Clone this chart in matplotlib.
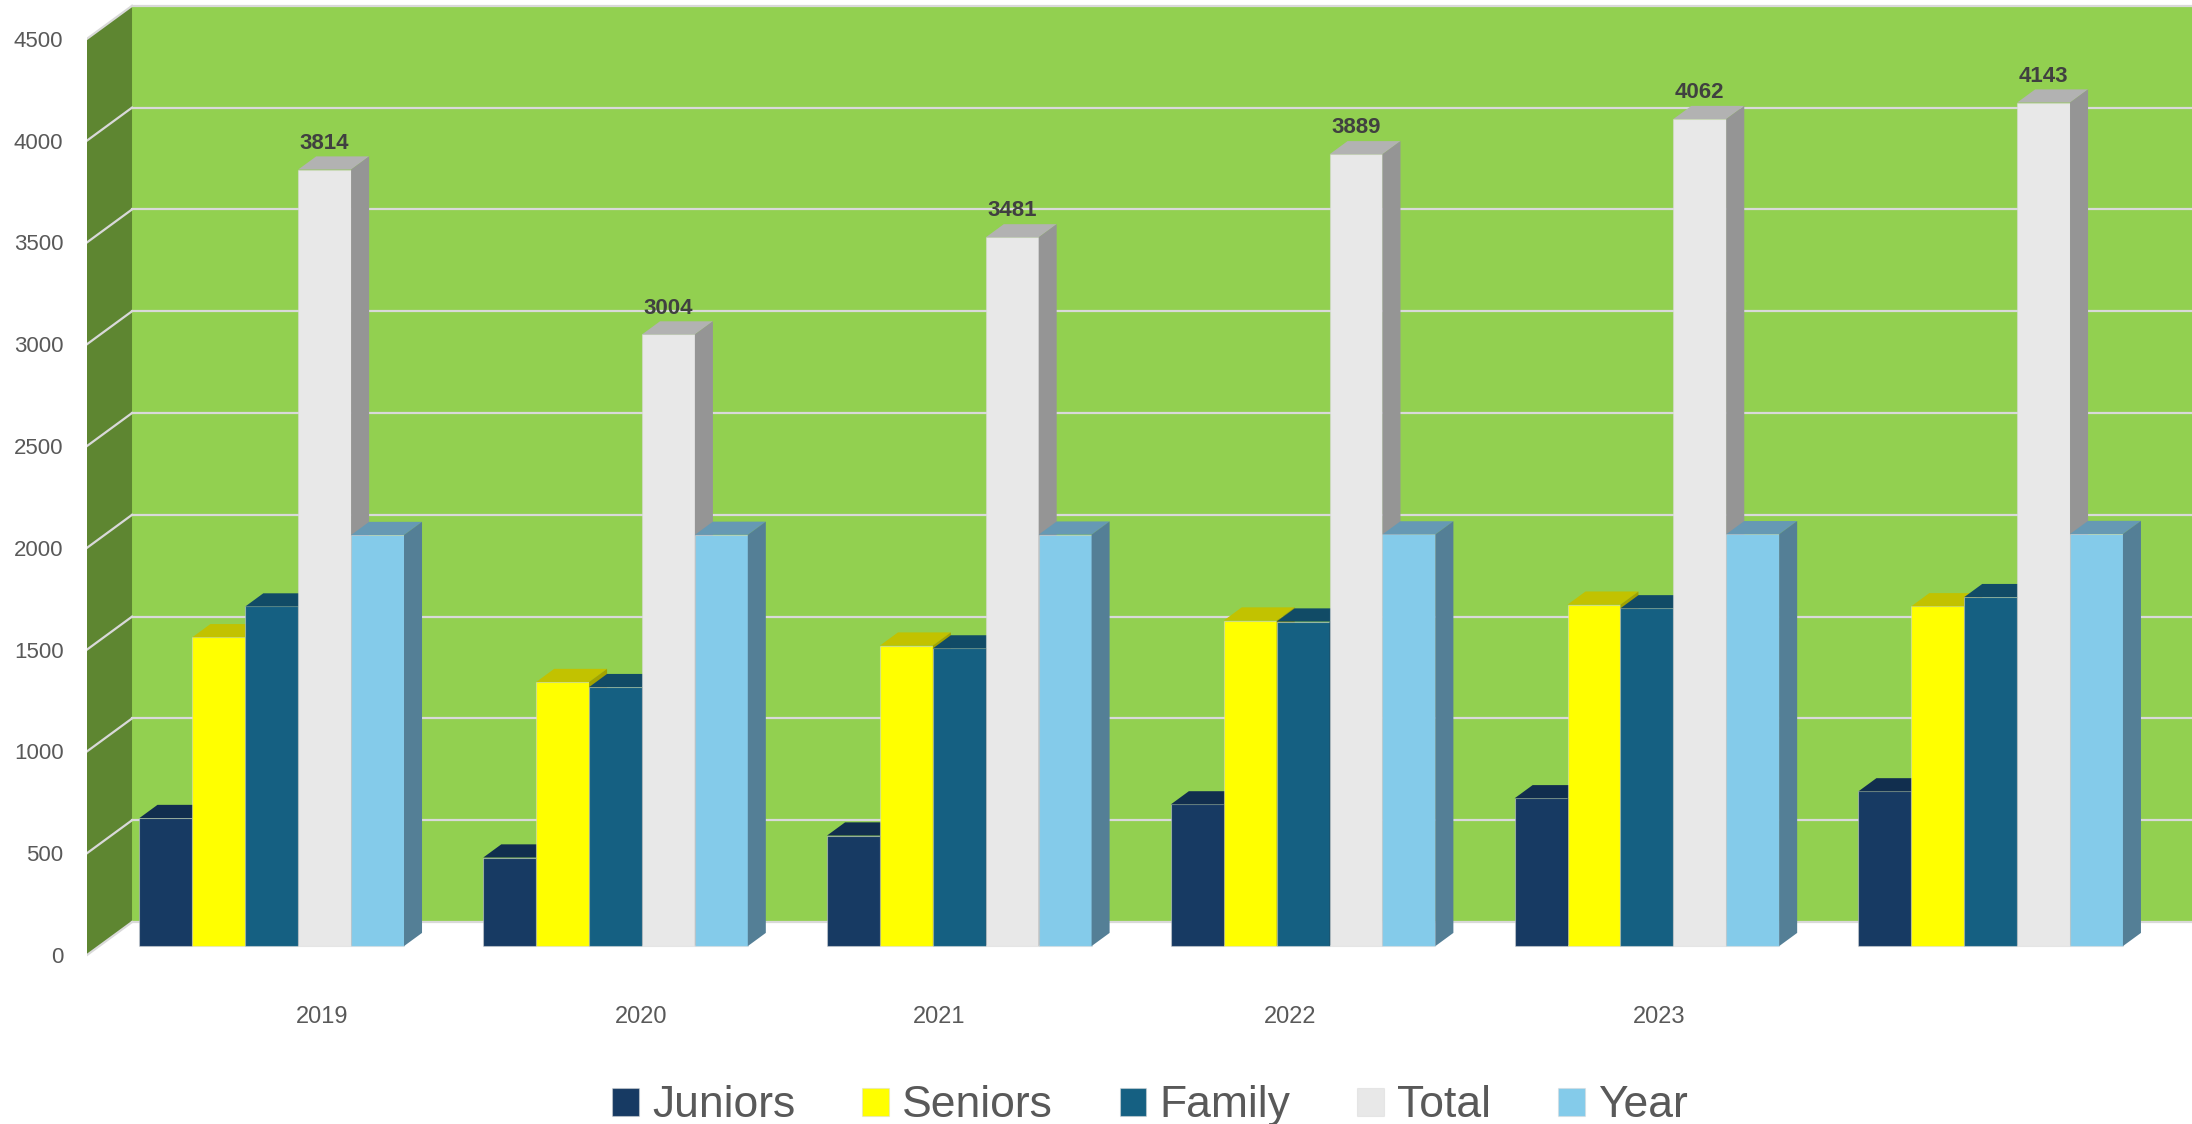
import numpy as np
import matplotlib.pyplot as plt
from matplotlib.patches import Polygon

plt.rcParams['font.family'] = ['Liberation Sans', 'DejaVu Sans']

# chart data
years = ['2019', '2020', '2021', '2022', '2023', '']
juniors = [629, 435, 543, 696, 726, 760]
seniors = [1517, 1297, 1476, 1599, 1677, 1669]
family = [1668, 1272, 1462, 1594, 1659, 1714]
total = [3814, 3004, 3481, 3889, 4062, 4143]
year = [2019, 2020, 2021, 2022, 2023, 2024]

series_names = ['Juniors', 'Seniors', 'Family', 'Total', 'Year']
series_values = [juniors, seniors, family, total, year]
y_ticks = np.arange(0, 5000, 500)

# where excel put the category labels (in category units, it drifts from the group centres)
label_pos = [0.182, 1.110, 1.976, 2.997, 4.071, 5.0]

# colours: front face / top face / side face
front_colors = ['#173A63', '#FFFF00', '#156082', '#E8E8E8', '#84CBEA']
top_colors = ['#112E4E', '#C2C200', '#114B66', '#B2B2B2', '#6699B4']
side_colors = ['#0F2743', '#A3A300', '#0F4058', '#959595', '#547F96']

# fake 3d geometry (data units): depth offset of the walls, bar placement inside the depth
wall_dx, wall_dy = 0.131, 162
wall_x = -0.502
bar_front, bar_depth = 0.27, 0.4
bar_w = 0.1539

W, H = 2192, 1124
fig = plt.figure(figsize=(W / 100, H / 100), dpi=100)
ax = fig.add_axes([87 / W, 0, 1 - 87 / W, 1])
ax.set_xlim(-0.502, 5.621)
ax.set_ylim(-830, 4690.6)
for s in ax.spines.values():
    s.set_visible(False)
ax.set_xticks([])
ax.set_yticks(y_ticks)
ax.tick_params(axis='y', length=0, pad=17, labelsize=16, labelcolor='#595959')

x_back = wall_x + wall_dx
x_end = 7
top_v = y_ticks[-1]

# back wall and left side wall
ax.add_patch(Polygon([(x_back, wall_dy), (x_end, wall_dy), (x_end, top_v + wall_dy), (x_back, top_v + wall_dy)],
                     closed=True, facecolor='#92D050', edgecolor='none', zorder=0))
ax.add_patch(Polygon([(wall_x, 0), (x_back, wall_dy), (x_back, top_v + wall_dy), (wall_x, top_v)],
                     closed=True, facecolor='#5E8631', edgecolor='none', zorder=0))

# gridlines on both walls
for v in y_ticks:
    ax.plot([x_back, x_end], [v + wall_dy, v + wall_dy], color='#D9D9D9', lw=1.6, zorder=1)
    ax.plot([wall_x, x_back], [v, v + wall_dy], color='#D9D9D9', lw=1.6, zorder=1)

x = np.arange(len(years))
ddx, ddy = bar_depth * wall_dx, bar_depth * wall_dy
handles = []
for j, (name, vals) in enumerate(zip(series_names, series_values)):
    left = x + bar_front * wall_dx + (j - 2.5) * bar_w
    bars = ax.bar(left, vals, width=bar_w, bottom=bar_front * wall_dy, align='edge',
                  color=front_colors[j], edgecolor=(0.85, 0.85, 0.85, 0.5), linewidth=0.8,
                  zorder=3 + j, label=name)
    handles.append(bars)
    for b in bars:
        x0, y0, w, h = b.get_x(), b.get_y(), b.get_width(), b.get_height()
        ax.add_patch(Polygon([(x0, y0 + h), (x0 + w, y0 + h), (x0 + w + ddx, y0 + h + ddy), (x0 + ddx, y0 + h + ddy)],
                             closed=True, facecolor=top_colors[j], edgecolor='none', zorder=3 + j))
        ax.add_patch(Polygon([(x0 + w, y0), (x0 + w + ddx, y0 + ddy), (x0 + w + ddx, y0 + h + ddy), (x0 + w, y0 + h)],
                             closed=True, facecolor=side_colors[j], edgecolor='none', zorder=3 + j))
        if name == 'Total':
            ax.annotate(f'{h:.0f}', xy=(x0 + w / 2, y0 + h), xytext=(0, 19), textcoords='offset points',
                        ha='center', va='center', fontsize=16, fontweight='bold', color='#404040', zorder=20)

# category labels under the floor
for pos, lab in zip(label_pos, years):
    ax.text(pos, -305, lab, ha='center', va='center', fontsize=17, color='#595959')

fig.legend(handles=handles, labels=series_names, loc='lower center', bbox_to_anchor=(1150 / W, -0.010),
           ncol=5, frameon=False, fontsize=32, labelcolor='#595959', handlelength=0.6, handleheight=0.6,
           handletextpad=0.3, columnspacing=1.5, borderaxespad=0, borderpad=0.2)

fig.savefig('out.png', dpi=100, facecolor='white')
